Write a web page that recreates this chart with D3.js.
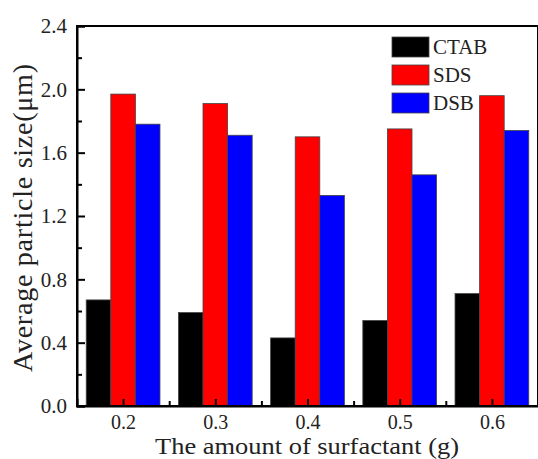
<!DOCTYPE html>
<html>
<head>
<meta charset="utf-8">
<script src="https://cdn.jsdelivr.net/npm/d3@7"></script>
<style>
  body { margin: 0; background: #fff; }
  svg text { font-family: "Times New Roman", "Liberation Serif", Times, "DejaVu Serif", serif !important; }
</style>
</head>
<body>
<div id="chart"></div>
<script>
// surfactant amount (g) on the x axis
var amounts = [0.2, 0.3, 0.4, 0.5, 0.6];
var seriesNames = ["CTAB", "SDS", "DSB"];
var seriesColors = ["#000000", "#ff0000", "#0000ff"];
// average particle size (um)
var ctab = [0.67, 0.59, 0.43, 0.54, 0.71];
var sds = [1.97, 1.91, 1.70, 1.75, 1.96];
var dsb = [1.78, 1.71, 1.33, 1.46, 1.74];
var yTicks = [0.0, 0.4, 0.8, 1.2, 1.6, 2.0, 2.4];
var yMinor = [0.2, 0.6, 1.0, 1.4, 1.8, 2.2];
var xMinor = [0.25, 0.35, 0.45, 0.55];

var svgWidth = 538;
var svgHeight = 459;

var chartMargin = {
    top: 26,
    right: 0,
    bottom: 53,
    left: 77
};

var chartWidth = svgWidth - chartMargin.left - chartMargin.right;
var chartHeight = svgHeight - chartMargin.top - chartMargin.bottom;

var svg = d3.select("#chart")
            .append("svg")
            .attr("width", svgWidth)
            .attr("height", svgHeight);

var chartGroup = svg.append("g")
                    .attr("transform", `translate(${chartMargin.left},${chartMargin.top})`);

var xScale = d3.scaleLinear()
    .domain([0.15, 0.65])
    .range([0, chartWidth]);

var yScale = d3.scaleLinear()
    .domain([0, 2.4])
    .range([chartHeight, 0]);

var allSeries = [ctab, sds, dsb];
var barWidth = (xScale(0.25) - xScale(0.15)) * 0.8 / 3;

// bars
allSeries.forEach(function(values, s) {
    chartGroup.append("g")
        .selectAll("rect")
        .data(values)
        .enter()
        .append("rect")
        .attr("x", (d, i) => xScale(amounts[i]) + (s - 1.5) * barWidth)
        .attr("y", d => yScale(d))
        .attr("width", barWidth)
        .attr("height", d => chartHeight - yScale(d))
        .attr("fill", seriesColors[s])
        .attr("stroke", "#444")
        .attr("stroke-width", 0.8);
});

// frame
chartGroup.append("rect")
    .attr("x", 0)
    .attr("y", 0)
    .attr("width", chartWidth)
    .attr("height", chartHeight)
    .attr("fill", "none")
    .attr("stroke", "#000")
    .attr("stroke-width", 2);

// left axis, ticks pointing inward
var leftAxis = d3.axisLeft(yScale)
    .tickValues(yTicks)
    .tickSize(-8)
    .tickPadding(10)
    .tickFormat(d3.format(".1f"));

var yAxis = chartGroup.append("g").call(leftAxis);

chartGroup.append("g")
    .call(d3.axisLeft(yScale).tickValues(yMinor).tickSize(-5).tickFormat(""))
    .select(".domain").remove();

var bottomAxis = d3.axisBottom(xScale)
    .tickValues(amounts)
    .tickSize(-7)
    .tickFormat(d3.format(".1f"));

var xAxis = chartGroup.append("g")
    .attr("transform", `translate(0, ${chartHeight})`)
    .call(bottomAxis);

chartGroup.append("g")
    .attr("transform", `translate(0, ${chartHeight})`)
    .call(d3.axisBottom(xScale).tickValues(xMinor).tickSize(-5).tickFormat(""))
    .select(".domain").remove();

svg.selectAll(".domain").attr("stroke-width", 2);
svg.selectAll(".tick line").attr("stroke-width", 2);

yAxis.selectAll("text")
    .attr("font-size", "21px")
    .attr("fill", "#222");

xAxis.selectAll("text")
    .attr("font-size", "20px")
    .attr("fill", "#222")
    .attr("y", 23)
    .attr("dy", 0);

// axis titles
svg.append("text")
    .attr("x", 307)
    .attr("y", 454)
    .attr("text-anchor", "middle")
    .attr("font-size", "23px")
    .attr("textLength", 304)
    .attr("lengthAdjust", "spacingAndGlyphs")
    .attr("fill", "#222")
    .text("The amount of surfactant (g)");

svg.append("text")
    .attr("transform", "translate(32, 218) rotate(-90)")
    .attr("text-anchor", "middle")
    .attr("font-size", "28px")
    .attr("textLength", 308)
    .attr("lengthAdjust", "spacing")
    .attr("fill", "#222")
    .text("Average particle size(\u03bcm)");

// legend
var legend = svg.append("g")
    .attr("transform", "translate(392, 37)");

seriesNames.forEach(function(name, i) {
    var row = legend.append("g")
        .attr("transform", `translate(0, ${i * 28})`);
    row.append("rect")
        .attr("width", 37)
        .attr("height", 20)
        .attr("fill", seriesColors[i])
        .attr("stroke", "#444")
        .attr("stroke-width", 0.8);
    row.append("text")
        .attr("x", 41)
        .attr("y", 17)
        .attr("font-size", "21px")
        .attr("fill", "#222")
        .text(name);
});
</script>
</body>
</html>
